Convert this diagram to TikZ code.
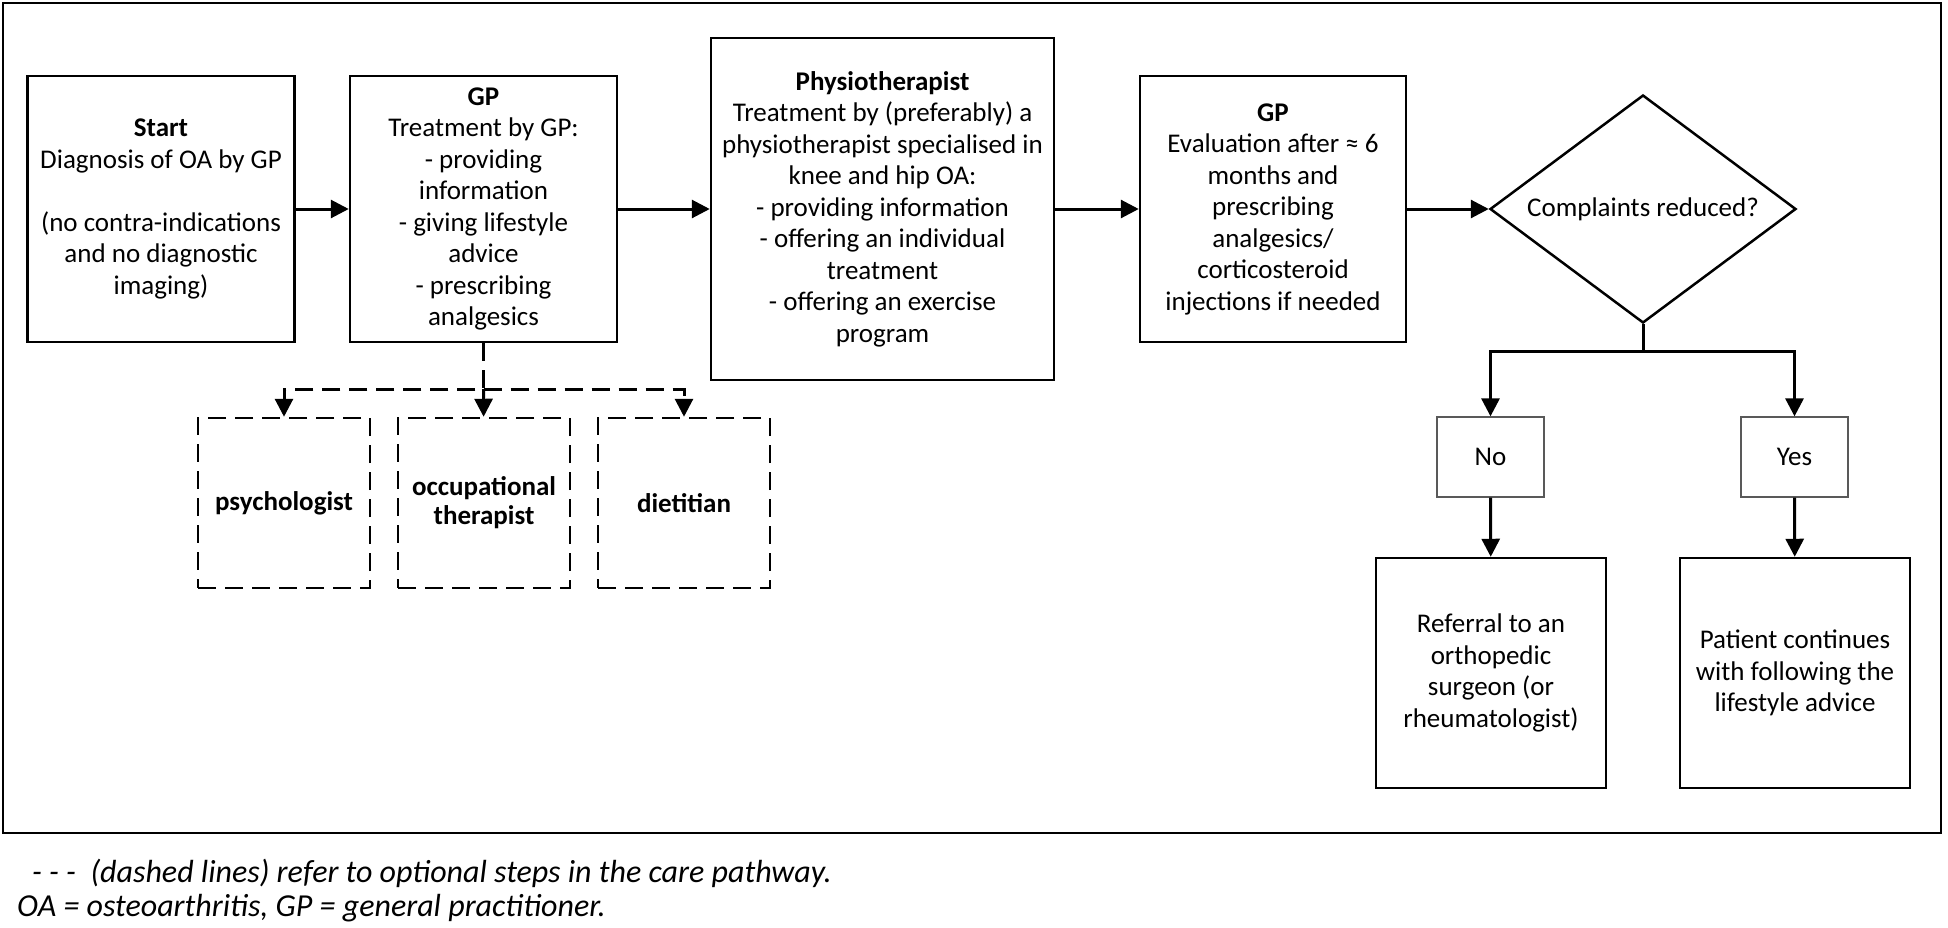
\documentclass[tikz,border=0pt]{standalone}
\usepackage{fontspec}
\setmainfont{Carlito}
\usetikzlibrary{arrows.meta}
\usetikzlibrary{shapes.geometric}

\begin{document}
\begin{tikzpicture}[x=1pt,y=1pt,yscale=-1,xscale=1,
  txt/.style={align=center,inner sep=0pt,font=\fontsize{27}{31.5}\selectfont},
  box/.style={txt,draw,line width=2.5pt,minimum width=267pt,minimum height=266pt},
  optbox/.style={txt,draw,line width=2.5pt,dash pattern=on 18pt off 9pt,minimum width=172pt,minimum height=170pt,font=\fontsize{27}{29}\selectfont\bfseries},
  answer/.style={txt,draw=black!65,line width=1.3pt,minimum width=107pt,minimum height=80pt},
  endbox/.style={txt,draw,line width=2.5pt,minimum width=230pt,minimum height=230pt},
  conn/.style={line width=3pt,-{Triangle[length=18pt,width=18pt]}},
  optconn/.style={conn,dash pattern=on 18pt off 9pt},
  note/.style={anchor=west,inner sep=0pt,font=\fontsize{32}{35}\selectfont\itshape}]
\useasboundingbox (0,0) rectangle (1948,927);

%Shape: Rectangle [id:frame]
\draw [line width=2.5pt] (3,3) rectangle (1941,833);

% Text Node
\node [box] (start) at (161,209) {\textbf{Start}\\Diagnosis of OA by GP\\[31.5pt](no contra-indications\\and no diagnostic\\imaging)};
% Text Node
\node [box] (gp) at (483.5,209) {\textbf{GP}\\Treatment by GP:\\- providing\\information\\- giving lifestyle\\advice\\- prescribing\\analgesics};
% Text Node
\node [box,minimum width=343pt,minimum height=342pt] (physio) at (882.5,209) {\textbf{Physiotherapist}\\Treatment by (preferably) a\\physiotherapist specialised in\\knee and hip OA:\\- providing information\\- offering an individual\\treatment\\- offering an exercise\\program};
% Text Node
\node [box,minimum width=266pt] (gpeval) at (1273,209) {\textbf{GP}\\Evaluation after ≈ 6\\months and\\prescribing\\analgesics/\\corticosteroid\\injections if needed};
%Shape: Diamond
\node [txt,draw,diamond,aspect=1.342,line width=2.5pt,minimum width=306pt,minimum height=228pt] (decision) at (1643,209) {Complaints reduced?};

% Text Node
\node [answer] (no) at (1490.5,457) {No};
% Text Node
\node [answer] (yes) at (1794.5,457) {Yes};
% Text Node
\node [endbox] (referral) at (1491,673) {Referral to an\\orthopedic\\surgeon (or\\rheumatologist)};
% Text Node
\node [endbox] (patient) at (1795,673) {Patient continues\\with following the\\lifestyle advice};

% Text Node
\node [optbox] (psych) at (284,503) {psychologist};
% Text Node
\node [optbox] (occup) at (484,503) {occupational\\therapist};
% Text Node
\node [optbox] (diet) at (684,503) {dietitian};

%Straight Lines
\draw [conn] (start) -- (gp);
\draw [conn] (gp) -- (physio);
\draw [conn] (physio) -- (gpeval);
\draw [conn] (gpeval) -- (decision);

\coordinate (fork) at (1643,351);
\draw [conn] (decision.south) -- (fork) -| (no);
\draw [conn] (fork) -| (yes);
\draw [conn] (no) -- (referral);
\draw [conn] (yes) -- (patient);

%Dashed Lines
\coordinate (optfork) at (483.5,389);
\draw [optconn] (gp) -- (optfork) -| (psych);
\draw [optconn] (optfork) -- (occup);
\draw [optconn] (optfork) -| (diet);

% Text Node
\node [note] (note1) at (32,873) {- - -~~(dashed lines) refer to optional steps in the care pathway.};
% Text Node
\node [note] (note2) at (17,908) {OA = osteoarthritis, GP = general practitioner.};

\end{tikzpicture}
\end{document}
